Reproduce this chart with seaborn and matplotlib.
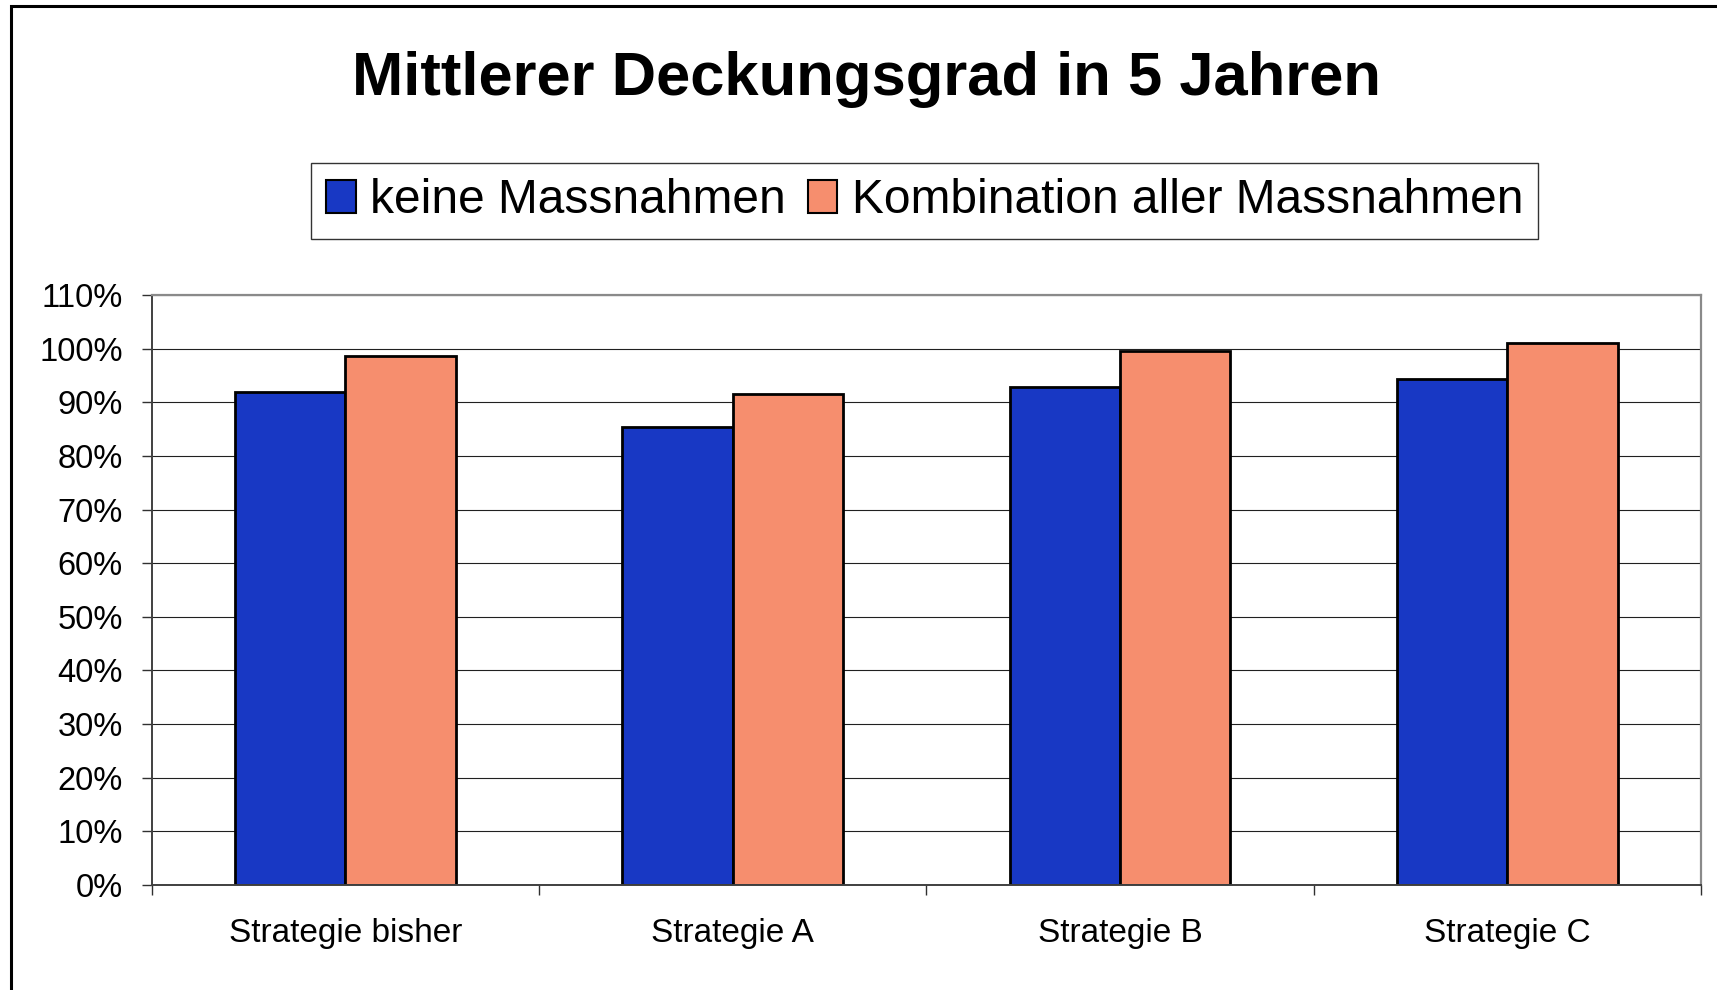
import matplotlib
matplotlib.use("Agg")
import matplotlib.pyplot as plt
from matplotlib.patches import Rectangle
from matplotlib.ticker import FixedLocator, FuncFormatter
import pandas as pd
import seaborn as sns

# data (percent)
strategien = ['Strategie bisher', 'Strategie A', 'Strategie B', 'Strategie C']
serien = ['keine Massnahmen', 'Kombination aller Massnahmen']
keine = [92.0, 85.4, 92.8, 94.3]
kombination = [98.6, 91.5, 99.5, 101.0]
farben = ['#1838c4', '#f68e6e']
y_ticks = list(range(0, 111, 10))

df = pd.DataFrame({
    'Strategie': strategien * 2,
    'Serie': [serien[0]] * 4 + [serien[1]] * 4,
    'Wert': keine + kombination,
})

sns.set_style('white')
plt.rcParams['font.family'] = ['Liberation Sans', 'DejaVu Sans']
plt.rcParams['text.color'] = 'black'
plt.rcParams['xtick.color'] = 'black'
plt.rcParams['ytick.color'] = 'black'

fig = plt.figure(figsize=(17.17, 9.90), dpi=100)
ax = fig.add_axes([0.0884, 0.1061, 0.9907 - 0.0884, 0.702 - 0.1061])

sns.barplot(data=df, x='Strategie', y='Wert', hue='Serie', order=strategien,
            hue_order=serien, palette=farben, saturation=1, width=0.57,
            edgecolor='black', linewidth=2.0, ax=ax, legend=False)

ax.set_ylim(0, 110)
ax.set_xlim(-0.5, len(strategien) - 0.5)
ax.yaxis.set_major_locator(FixedLocator(y_ticks))
ax.yaxis.set_major_formatter(FuncFormatter(lambda v, p: f'{v:.0f}%'))
ax.grid(axis='y', color='#202020', linewidth=0.8)
ax.set_axisbelow(True)
ax.set_xlabel('')
ax.set_ylabel('')

ax.xaxis.set_minor_locator(FixedLocator([i - 0.5 for i in range(len(strategien) + 1)]))
ax.tick_params(axis='x', which='major', length=0, pad=24, labelsize=24, labelcolor='black')
ax.tick_params(axis='x', which='minor', length=7, width=1, color='#303030', direction='out', bottom=True)
ax.tick_params(axis='y', which='major', length=7, width=1, color='#303030', direction='out',
               left=True, pad=14, labelsize=23.5, labelcolor='black')

for side in ['left', 'bottom']:
    ax.spines[side].set_color('#404040')
    ax.spines[side].set_linewidth(1.4)
for side in ['top', 'right']:
    ax.spines[side].set_color('#8a8a8a')
    ax.spines[side].set_linewidth(1.6)

fig.text(0.5044, 0.920, 'Mittlerer Deckungsgrad in 5 Jahren', ha='center', va='center',
         fontsize=44.3, fontweight='bold', color='black')

handles = [Rectangle((0, 0), 1, 1, facecolor=c, edgecolor='black', linewidth=1.5) for c in farben]
leg = fig.legend(handles, serien, loc='center', bbox_to_anchor=(0.5385, 0.797), ncol=2,
                 fontsize=34.5, frameon=True, fancybox=False, handlelength=0.62,
                 handleheight=0.67, handletextpad=0.3, columnspacing=0.45, borderpad=0.32)
leg.get_frame().set_edgecolor('black')
leg.get_frame().set_linewidth(1.0)
for t in leg.get_texts():
    t.set_color('black')

# outer chart frame (only left and top edges are visible in the original)
fig.patches.append(Rectangle((10.5 / 1717, -0.2), 1.5, 1.2 - 5.5 / 990, transform=fig.transFigure,
                             fill=False, edgecolor='black', linewidth=2.2))

fig.savefig('out.png', dpi=100)
